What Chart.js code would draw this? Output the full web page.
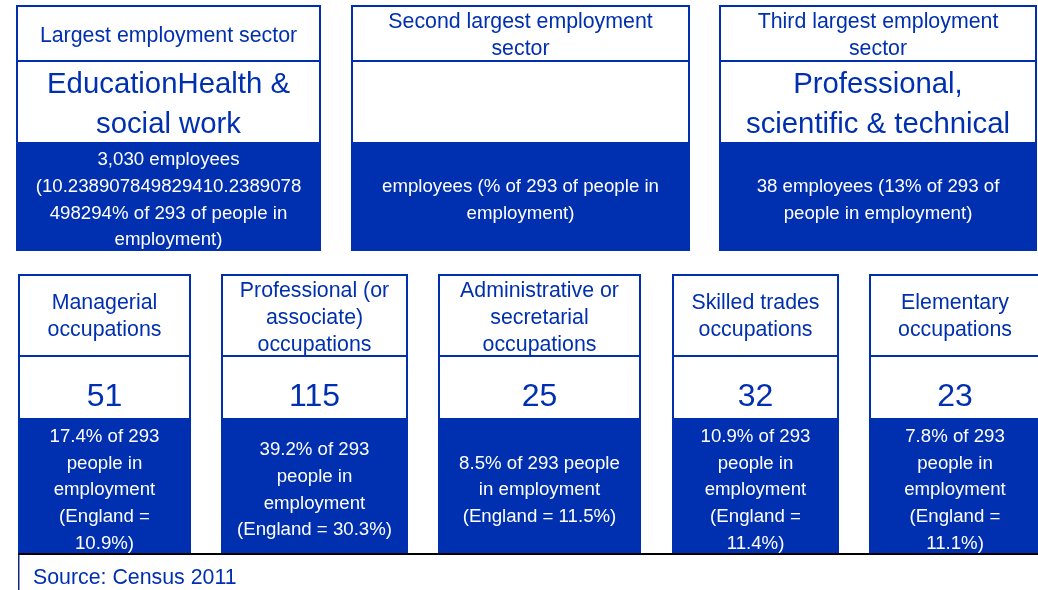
<!DOCTYPE html>
<html>
<head>
<meta charset="utf-8">
<script src="https://cdn.jsdelivr.net/npm/chart.js@4"></script>
<style>
  html, body { margin: 0; padding: 0; background: #ffffff; }
  #wrap { width: 1038px; height: 590px; position: relative; }
  canvas { display: block; }
</style>
</head>
<body>
<div id="wrap"><canvas id="c" width="1038" height="590"></canvas></div>
<script>
// ---------------- DATA ----------------
const totalInEmployment = 293;

const sectorHeadings = ["Largest employment sector", "Second largest employment sector", "Third largest employment sector"];
const sectorNames = ["EducationHealth & social work", "", "Professional, scientific & technical"];
const sectorEmployees = ["3,030", "", "38"];
const sectorShares = ["10.238907849829410.2389078498294", "", "13"];

const occupationNames = ["Managerial occupations", "Professional (or associate) occupations", "Administrative or secretarial occupations", "Skilled trades occupations", "Elementary occupations"];
const occupationCounts = [51, 115, 25, 32, 23];
const occupationShares = ["17.4", "39.2", "8.5", "10.9", "7.8"];
const englandShares = ["10.9", "30.3", "11.5", "11.4", "11.1"];

const sourceNote = "Source: Census 2011";

// ---------------- STYLE / LAYOUT ----------------
const BLUE = "rgb(0,48,176)";
const FONT = "'Liberation Sans', Arial, Helvetica, sans-serif";

const topBoxes = [
  { x0: 16, x1: 321 },
  { x0: 351, x1: 690 },
  { x0: 719, x1: 1037 }
];
const topRows = { y0: 5, ySep: 60, yBlue: 142, y1: 251 };

const botBoxes = [
  { x0: 18, x1: 191 },
  { x0: 221, x1: 408 },
  { x0: 438, x1: 641 },
  { x0: 672, x1: 839 },
  { x0: 869, x1: 1041 }
];
const botRows = { y0: 274, ySep: 355, yBlue: 418, y1: 553 };
const PAD = 31;

function wrapText(ctx, text, maxW) {
  const words = text.split(" ").filter(w => w.length);
  const lines = [];
  let cur = "";
  for (const w of words) {
    const test = cur ? cur + " " + w : w;
    if (ctx.measureText(test).width <= maxW) { cur = test; continue; }
    if (cur) { lines.push(cur); cur = ""; }
    if (ctx.measureText(w).width <= maxW) { cur = w; continue; }
    let piece = "";
    for (const ch of w) {
      if (ctx.measureText(piece + ch).width <= maxW) piece += ch;
      else { lines.push(piece); piece = ch; }
    }
    cur = piece;
  }
  if (cur) lines.push(cur);
  return lines;
}

const panelPlugin = {
  id: "panels",
  afterDraw(chart) {
    const ctx = chart.ctx;
    const sx = chart.scales.x, sy = chart.scales.y;
    const X = v => sx.getPixelForValue(v);
    const Y = v => sy.getPixelForValue(v);

    function rect(x0, y0, x1, y1, color) {
      ctx.fillStyle = color;
      ctx.fillRect(X(x0), Y(y0), X(x1) - X(x0), Y(y1) - Y(y0));
    }
    function textBlock(lines, cx, cy, size, lh, color) {
      ctx.font = size + "px " + FONT;
      ctx.fillStyle = color;
      ctx.textAlign = "center";
      ctx.textBaseline = "alphabetic";
      const n = lines.length;
      lines.forEach((ln, i) => {
        const c = cy + (i - (n - 1) / 2) * lh;
        ctx.fillText(ln, X(cx), Y(c + 0.36 * size));
      });
    }
    function wrapped(text, size, maxW) {
      ctx.font = size + "px " + FONT;
      return wrapText(ctx, text, maxW);
    }
    function frame(b, r) {
      rect(b.x0, r.yBlue, b.x1, r.y1, BLUE);
      rect(b.x0, r.y0, b.x1, r.y0 + 2, BLUE);
      rect(b.x0, r.y0, b.x0 + 2, r.yBlue, BLUE);
      rect(b.x1 - 2, r.y0, b.x1, r.yBlue, BLUE);
      rect(b.x0, r.ySep, b.x1, r.ySep + 2, BLUE);
    }

    ctx.save();
    ctx.beginPath();
    ctx.rect(chart.chartArea.left, chart.chartArea.top, chart.chartArea.right - chart.chartArea.left, chart.chartArea.bottom - chart.chartArea.top);
    ctx.clip();

    topBoxes.forEach((b, i) => {
      frame(b, topRows);
      const w = b.x1 - b.x0 - PAD;
      const cx = (b.x0 + b.x1) / 2;
      textBlock(wrapped(sectorHeadings[i], 21.33, w), cx, (topRows.y0 + topRows.ySep) / 2 + 1.5, 21.33, 26.7, BLUE);
      if (sectorNames[i]) {
        textBlock(wrapped(sectorNames[i], 29.33, w), cx, (topRows.ySep + topRows.yBlue) / 2 + 1.5, 29.33, 40.6, BLUE);
      }
      const detail = sectorEmployees[i] + " employees (" + sectorShares[i] + "% of " + totalInEmployment + " of people in employment)";
      textBlock(wrapped(detail, 18.67, w), cx, (topRows.yBlue + topRows.y1) / 2 + 2, 18.67, 26.7, "#ffffff");
    });

    botBoxes.forEach((b, i) => {
      frame(b, botRows);
      const w = b.x1 - b.x0 - PAD;
      const cx = (b.x0 + b.x1) / 2;
      const tl = wrapped(occupationNames[i], 21.33, w);
      textBlock(tl, cx, (botRows.y0 + botRows.ySep) / 2 + (tl.length > 2 ? 2 : 0.5), 21.33, 26.7, BLUE);
      textBlock([String(occupationCounts[i])], cx, 394.7, 32, 40, BLUE);
      const detail = occupationShares[i] + "% of " + totalInEmployment + " people in employment (England = " + englandShares[i] + "%)";
      textBlock(wrapped(detail, 18.67, w), cx, (botRows.yBlue + botRows.y1) / 2 + 3, 18.67, 26.7, "#ffffff");
    });

    rect(18, 553, 1038, 555, "#000000");
    rect(18, 555, 19.5, 590, "rgb(20,40,120)");
    ctx.font = "21.33px " + FONT;
    ctx.fillStyle = BLUE;
    ctx.textAlign = "left";
    ctx.textBaseline = "alphabetic";
    ctx.fillText(sourceNote, X(33), Y(583.5));

    ctx.restore();
  }
};

new Chart(document.getElementById("c"), {
  type: "scatter",
  data: { datasets: [{ data: [], pointRadius: 0 }] },
  options: {
    responsive: false,
    animation: false,
    devicePixelRatio: 1,
    layout: { padding: 0 },
    plugins: { legend: { display: false }, tooltip: { enabled: false }, title: { display: false } },
    scales: {
      x: { type: "linear", min: 0, max: 1038, display: false },
      y: { type: "linear", min: 0, max: 590, reverse: true, display: false }
    }
  },
  plugins: [panelPlugin]
});
</script>
</body>
</html>
